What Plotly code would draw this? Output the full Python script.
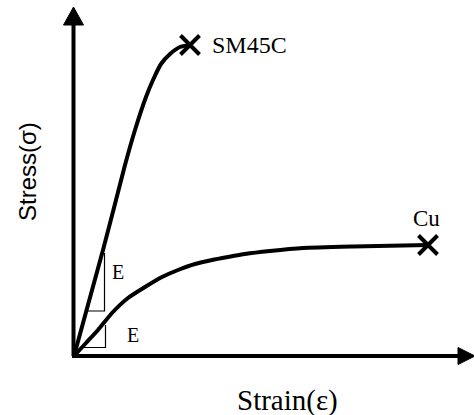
import plotly.graph_objects as go

# ---- data (arbitrary units: strain, stress) ----
sm45c_strain = [0, 0.145, 0.29, 0.42, 0.51, 0.61, 0.72, 0.79, 0.87, 0.96, 1.06, 1.16]
sm45c_stress = [0, 0.53, 1.06, 1.56, 1.91, 2.26, 2.59, 2.76, 2.92, 3.02, 3.09, 3.11]
cu_strain = [0, 0.12, 0.24, 0.38, 0.54, 0.71, 0.88, 1.04, 1.21, 1.38, 1.54, 1.71, 1.96, 2.29, 2.79, 3.29, 3.54]
cu_stress = [0, 0.13, 0.26, 0.43, 0.58, 0.69, 0.79, 0.86, 0.92, 0.96, 0.99, 1.02, 1.05, 1.08, 1.095, 1.105, 1.11]
series_names = ["SM45C", "Cu"]
x_title = "Strain(ε)"
y_title = "Stress(σ)"
modulus_label = "E"

SERIF = "Liberation Serif, Times New Roman, serif"
SANS = "Liberation Sans, Arial, sans-serif"

fig = go.Figure()
for xs, ys in [(sm45c_strain, sm45c_stress), (cu_strain, cu_stress)]:
    fig.add_trace(go.Scatter(x=xs, y=ys, mode="lines",
                             line=dict(color="black", width=4, shape="spline", smoothing=0.5),
                             hoverinfo="skip", showlegend=False))
    fig.add_trace(go.Scatter(x=[xs[-1]], y=[ys[-1]], mode="markers",
                             marker=dict(symbol="x-thin", size=19, line=dict(width=4, color="black")),
                             hoverinfo="skip", showlegend=False))

shapes = []
# axes
shapes.append(dict(type="line", x0=-0.005, y0=0, x1=-0.005, y1=3.32, line=dict(color="black", width=4)))
shapes.append(dict(type="line", x0=-0.02, y0=0, x1=3.86, y1=0, line=dict(color="black", width=4)))
shapes.append(dict(type="path", path="M -0.105 3.31 L 0.095 3.31 L -0.005 3.49 Z",
                   fillcolor="black", line=dict(color="black", width=1)))
shapes.append(dict(type="path", path="M 3.84 0.085 L 3.84 -0.085 L 4.01 0 Z",
                   fillcolor="black", line=dict(color="black", width=1)))
# modulus triangles
shapes.append(dict(type="path", path="M 0.14 0.45 L 0.305 0.45 L 0.305 1.03",
                   line=dict(color="black", width=1.2)))
shapes.append(dict(type="path", path="M 0.09 0.085 L 0.315 0.085 L 0.315 0.31",
                   line=dict(color="black", width=1.2)))
fig.update_layout(shapes=shapes)

ann = [
    dict(x=1.36, y=3.11, text=series_names[0], xanchor="left", yanchor="middle",
         font=dict(family=SERIF, size=24, color="black")),
    dict(x=3.52, y=1.38, text=series_names[1], xanchor="center", yanchor="middle",
         font=dict(family=SERIF, size=23, color="black")),
    dict(x=0.44, y=0.84, text=modulus_label, xanchor="center", yanchor="middle",
         font=dict(family=SERIF, size=20, color="black")),
    dict(x=0.59, y=0.21, text=modulus_label, xanchor="center", yanchor="middle",
         font=dict(family=SERIF, size=20, color="black")),
    dict(x=-0.47, y=1.84, text=y_title, textangle=-90, xanchor="center", yanchor="middle",
         font=dict(family=SANS, size=24, color="black")),
    dict(x=2.13, y=-0.44, text=x_title, xanchor="center", yanchor="middle",
         font=dict(family=SERIF, size=29, color="black")),
]
for a in ann:
    a.update(showarrow=False, xref="x", yref="y")
fig.update_layout(annotations=ann)

fig.update_layout(
    width=474, height=415,
    margin=dict(l=0, r=0, t=0, b=0),
    paper_bgcolor="white", plot_bgcolor="white",
    xaxis=dict(range=[-0.74, 4.00], visible=False, fixedrange=True),
    yaxis=dict(range=[-0.59, 3.56], visible=False, fixedrange=True),
)
fig.write_html("out.html", config={"displayModeBar": False},
               post_script="document.body.style.margin='0';document.body.style.overflow='hidden';")
